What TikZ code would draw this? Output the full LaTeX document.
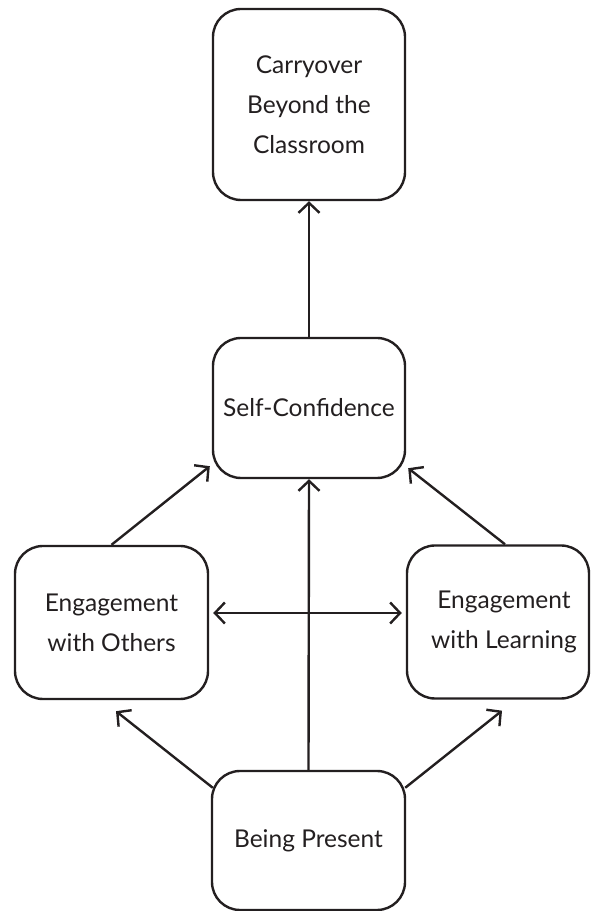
\documentclass[tikz,border=0pt]{standalone}
\usepackage{fontspec}
\setmainfont{Lato}
\usetikzlibrary{arrows.meta,calc}
\definecolor{ink}{HTML}{231F20}
\begin{document}
\begin{tikzpicture}[x=1pt,y=1pt,
  box/.style={draw=ink, line width=2.4pt, rounded corners=28pt, align=center,
    inner sep=0pt, text=ink, font=\fontsize{24.5}{40}\selectfont},
  link/.style={draw=ink, line width=2.4pt, -{Straight Barb[length=10pt,width=21pt]}},
  both/.style={draw=ink, line width=2.4pt, {Straight Barb[length=10pt,width=21pt]}-{Straight Barb[length=10pt,width=21pt]}}]
\useasboundingbox (0,0) rectangle (590,911);
\node[box, minimum width=192pt, minimum height=191pt] (top) at (309,806.5) {Carryover\\Beyond the\\Classroom};
\node[box, minimum width=192pt, minimum height=140pt] (self) at (309,503) {Self-Confidence};
\node[box, minimum width=193pt, minimum height=153pt] (left) at (111.5,288.5) {Engagement\\with Others};
\node[box, minimum width=182pt, minimum height=153pt] (right) at (498,289) {\hspace*{12pt}Engagement\\\hspace*{12pt}with Learning};
\node[box, minimum width=193pt, minimum height=139pt] (bottom) at (308.5,70.5) {Being Present};
\draw[link] (self.north) -- (top.south);
\draw[link] (bottom.north) -- (self.south);
\draw[link] (left.north) -- ($(self.south west)+(-2,13)$);
\draw[link] ($(right.north)+(7,0)$) -- ($(self.south east)+(2,11)$);
\draw[link] ($(bottom.north west)+(2,-18)$) -- ($(left.south)+(4.5,-11)$);
\draw[link] ($(bottom.north east)+(-1,-18)$) -- ($(right.south)+(4,-11)$);
\draw[both] ($(left.east)+(4,9.5)$) -- ($(right.west)+(-4,9)$);
\end{tikzpicture}
\end{document}
